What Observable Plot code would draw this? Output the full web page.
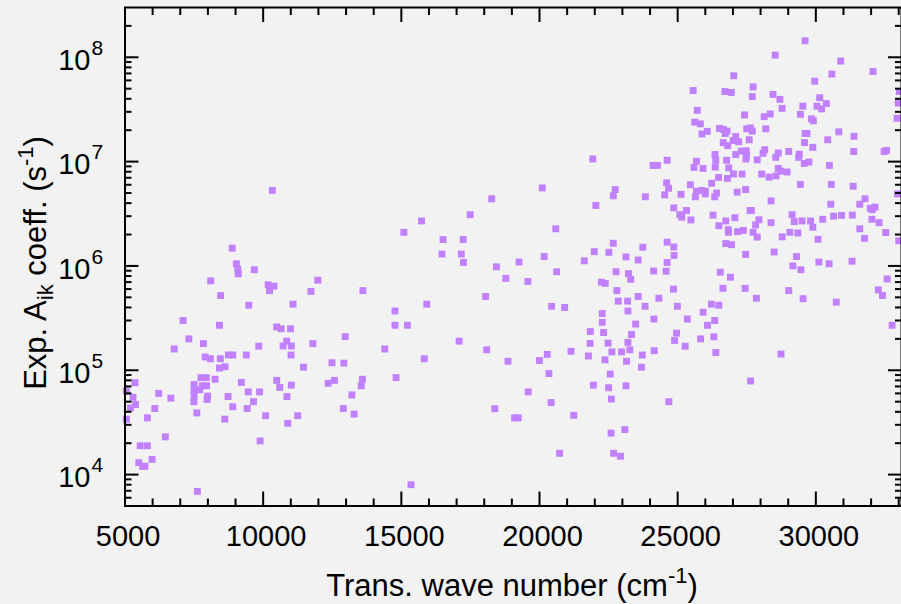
<!DOCTYPE html>
<html><head><meta charset="utf-8">
<style>
html,body{margin:0;padding:0;background:#f2f2f2;}
#chart{width:901px;height:604px;overflow:hidden;}
svg{display:block;}
</style>
<script src="https://cdn.jsdelivr.net/npm/d3@7"></script>
<script src="https://cdn.jsdelivr.net/npm/@observablehq/plot@0.6"></script>
</head><body><div id="chart"></div>
<script>
// [wave number (cm^-1), A_ik (s^-1)]
const lowBand = [[10330,5.3e6],[8880,1.48e6],[9030,1.05e6],[9080,9.3e5],[9100,8.4e5],[9680,9.2e5],[8100,7.2e5],[10180,6.6e5],[10390,6.4e5],[10230,5.8e5],[11980,7.3e5],[11730,5.7e5],[13610,5.8e5],[8460,5.2e5],[9480,4.2e5],[11080,4.3e5],[7100,3.0e5],[8420,2.7e5],[10490,2.6e5],[10650,2.5e5],[10990,2.5e5],[12970,2.1e5],[7310,2.0e5],[7840,1.8e5],[6780,1.6e5],[9840,1.7e5],[10850,1.9e5],[10720,1.71e5],[11020,1.71e5],[11800,1.8e5],[14400,1.6e5],[7900,1.34e5],[8090,1.29e5],[8450,1.29e5],[8740,1.4e5],[8900,1.4e5],[9390,1.4e5],[11010,1.4e5],[8420,1.05e5],[8620,1.08e5],[11460,1.07e5],[12490,1.18e5],[12920,1.17e5],[5360,7.6e4],[7750,8.5e4],[7940,8.5e4],[8260,8.2e4],[7500,7.3e4],[7800,7.1e4],[7950,7.1e4],[7500,6.5e4],[7700,6.5e4],[7500,5.75e4],[7490,5.0e4],[7990,5.65e4],[7970,5.25e4],[9210,7.65e4],[10490,8.0e4],[10600,6.85e4],[11020,7.2e4],[12350,7.5e4],[12580,8.0e4],[13590,8.2e4],[13550,7.1e4],[13210,5.8e4],[9460,6.2e4],[9870,6.2e4],[8730,5.6e4],[9650,5.0e4],[10860,5.6e4],[8900,4.47e4],[9420,4.3e4],[12900,4.3e4],[13290,3.8e4],[6220,6.0e4],[6660,5.4e4],[6080,4.3e4],[7600,3.9e4],[8610,3.4e4],[10090,3.67e4],[11250,3.67e4],[10890,3.1e4],[5810,3.5e4],[6460,2.3e4],[9890,2.1e4],[5550,1.89e4],[5810,1.89e4],[5980,1.4e4],[5500,1.3e4],[5640,1.2e4],[5720,1.2e4],[7620,6.9e3],[5050,6.3e4],[5290,5.5e4],[5380,4.7e4],[5200,4.35e4],[5050,3.4e4]];
const midBand = [[20100,5.6e6],[22740,5.4e6],[22670,4.7e6],[18270,4.4e6],[22040,3.8e6],[17490,3.1e6],[15730,2.7e6],[15090,2.1e6],[20590,2.27e6],[16510,1.79e6],[17240,1.79e6],[16470,1.3e6],[17170,1.3e6],[17250,1.08e6],[19260,1.09e6],[20170,1.23e6],[18440,9.8e5],[18780,7.6e5],[19580,7.1e5],[20620,8.8e5],[21620,1.12e6],[21980,1.37e6],[22510,1.35e6],[22670,1.65e6],[23130,1.22e6],[23570,1.14e6],[23740,1.51e6],[22770,8.8e5],[23220,8.44e5],[23300,7.45e5],[22240,7.0e5],[22380,6.8e5],[22800,5.8e5],[22850,4.6e5],[23190,4.6e5],[23570,5.1e5],[23820,4.1e5],[23200,3.7e5],[18050,5.1e5],[15920,4.3e5],[14770,3.7e5],[14770,2.7e5],[15220,2.7e5],[20440,4.1e5],[20910,4.0e5],[22270,3.5e5],[22270,2.88e5],[22320,2.3e5],[21840,2.35e5],[21830,1.81e5],[22480,1.82e5],[23480,2.77e5],[23330,2.2e5],[23200,1.85e5],[23270,1.57e5],[22970,1.5e5],[22620,1.5e5],[21770,1.37e5],[22370,1.26e5],[23150,1.22e5],[23720,1.4e5],[23690,1.07e5],[22560,9.2e4],[21950,7.2e4],[22500,6.8e4],[23130,7.1e4],[22600,5.3e4],[17090,1.9e5],[18090,1.57e5],[15830,1.29e5],[18860,1.22e5],[20000,1.24e5],[20280,1.42e5],[21140,1.52e5],[14810,8.5e4],[19590,6.2e4],[20340,9.3e4],[20420,4.9e4],[18380,4.28e4],[19100,3.5e4],[19230,3.5e4],[21240,3.7e4],[22590,2.5e4],[23090,2.7e4],[20730,1.6e4],[22680,1.6e4],[22930,1.5e4],[15350,8.0e3],[21930,1.06e7],[24680,5.0e4],[27640,7.9e4]];
const highBand = [[29610,1.44e8],[28530,1.05e8],[30900,9.2e7],[32070,7.3e7],[30580,6.9e7],[27030,6.65e7],[29960,5.9e7],[25560,4.8e7],[26710,4.7e7],[26940,4.6e7],[27730,5.2e7],[27700,4.2e7],[28450,4.4e7],[28700,3.95e7],[30140,4.1e7],[30040,3.4e7],[30380,3.6e7],[30210,3.2e7],[29530,3.4e7],[28780,3.24e7],[25710,3.1e7],[27420,2.8e7],[28130,2.7e7],[28350,2.86e7],[29440,2.84e7],[29840,2.57e7],[29910,2.46e7],[25620,2.39e7],[25820,2.3e7],[26070,1.95e7],[25880,1.84e7],[26510,2.08e7],[26650,2.04e7],[26720,1.86e7],[26790,1.96e7],[27500,2.06e7],[27630,2.1e7],[27700,1.96e7],[28190,2.06e7],[29610,1.86e7],[29680,1.86e7],[30830,1.93e7],[31380,1.75e7],[30430,1.62e7],[32940,2.6e7],[32980,3.64e7],[33020,4.7e7],[27100,1.74e7],[27010,1.59e7],[27210,1.55e7],[27590,1.62e7],[26650,1.52e7],[26810,1.42e7],[29590,1.52e7],[29890,1.37e7],[24110,9.2e6],[24270,9.2e6],[24620,1.03e7],[26350,1.17e7],[26380,1.03e7],[26770,1.03e7],[27100,1.17e7],[27300,1.26e7],[27480,1.27e7],[27490,1.15e7],[27470,1.06e7],[27880,1.04e7],[28090,1.2e7],[28150,1.3e7],[28550,1.1e7],[28640,1.21e7],[29020,1.25e7],[29400,1.18e7],[29380,1.1e7],[29580,9.6e6],[29750,9.9e6],[31370,1.25e7],[32470,1.25e7],[32560,1.28e7],[30490,9.2e6],[25680,1.007e7],[25590,8.8e6],[25920,8.6e6],[26360,8.85e6],[26850,8.7e6],[27020,7.6e6],[27330,7.6e6],[26800,6.9e6],[26480,7.05e6],[26230,6.2e6],[28040,7.6e6],[28310,7.1e6],[28560,7.3e6],[28640,8.6e6],[28740,8.1e6],[28960,7.95e6],[29440,6.05e6],[30560,6.05e6],[31350,5.8e6],[32950,4.9e6],[24600,6.25e6],[24670,5.55e6],[25460,6.0e6],[23830,4.6e6],[24530,4.8e6],[25120,4.85e6],[25680,5.2e6],[25640,4.6e6],[25860,5.3e6],[26000,5.2e6],[26000,4.9e6],[26410,5.0e6],[26340,4.6e6],[27150,5.1e6],[27460,5.4e6],[28380,4.2e6],[30540,3.9e6],[31590,3.9e6],[31780,4.4e6],[31970,3.57e6],[32140,3.67e6],[32040,3.46e6],[24860,3.6e6],[25080,3.1e6],[25150,2.93e6],[25320,3.4e6],[25480,2.76e6],[26280,3.07e6],[26490,2.43e6],[26740,2.7e6],[27070,2.9e6],[26830,2.23e6],[26840,2.1e6],[27160,2.13e6],[27380,2.19e6],[27620,3.4e6],[27670,3.4e6],[27940,2.77e6],[27820,2.47e6],[27730,2.1e6],[27880,1.89e6],[28380,2.6e6],[29140,3.1e6],[29220,2.66e6],[29500,2.7e6],[29810,2.7e6],[29890,2.35e6],[29060,2.1e6],[29350,2.07e6],[28780,1.9e6],[30250,2.8e6],[30640,3.0e6],[30930,3.05e6],[31320,3.07e6],[32030,2.8e6],[32290,2.6e6],[31590,2.27e6],[31760,1.84e6],[32530,2.09e6],[30080,1.8e6],[33000,1.74e6],[26740,1.64e6],[26950,1.6e6],[24620,1.69e6],[24860,1.52e6],[24870,1.26e6],[24620,1.08e6],[27460,1.29e6],[28490,1.36e6],[29300,1.23e6],[29170,1.0e6],[29460,9.2e5],[30110,1.09e6],[30480,1.05e6],[31310,1.11e6],[32580,7.5e5],[32260,5.9e5],[32410,5.2e5],[24130,8.95e5],[24580,8.9e5],[26540,8.7e5],[26910,7.8e5],[24320,4.9e5],[24850,6.0e5],[26640,6.1e5],[27440,6.1e5],[27850,4.9e5],[29020,5.8e5],[29540,4.85e5],[30740,4.5e5],[32760,2.7e5],[24990,4.1e5],[26220,4.3e5],[26490,4.2e5],[25920,3.6e5],[24140,3.1e5],[25350,3.1e5],[26340,3.0e5],[26080,2.7e5],[24960,2.27e5],[24890,1.93e5],[25830,2.0e5],[26310,2.09e5],[25270,1.7e5],[24150,1.54e5],[26380,1.48e5],[28740,1.43e5]];

const xMajorTicks = [5000, 10000, 15000, 20000, 25000, 30000];
const yMajorTicks = [1e4, 1e5, 1e6, 1e7, 1e8];
const yExponents = ["4", "5", "6", "7", "8"];
const xDomain = [5000, 33100];
const yDomain = [5000, 3e8];

const points = [...lowBand, ...midBand, ...highBand].map(([x, y]) => ({x, y}));
const xMinor = d3.range(6000, 34000, 1000).filter(v => v % 5000 !== 0 && v < xDomain[1]);
const yMinor = [];
for (let e = 3; e <= 8; e++) for (let m = 2; m <= 9; m++) {
  const v = m * Math.pow(10, e);
  if (v > yDomain[0] && v < yDomain[1]) yMinor.push(v);
}

const FONT = "'Liberation Sans', Arial, Helvetica, sans-serif";
const tk = {fill: "none", stroke: "black", strokeWidth: 2, label: null};

const plot = Plot.plot({
  width: 901, height: 604,
  marginLeft: 124.5, marginRight: 0, marginTop: 7, marginBottom: 98.5,
  style: {background: "#f2f2f2", fontFamily: FONT, fontSize: "29px", color: "black"},
  x: {type: "linear", domain: xDomain},
  y: {type: "log", domain: yDomain},
  marks: [
    Plot.dot(points, {x: "x", y: "y", symbol: "square", r: 3.9, fill: "#c080ff", stroke: "none"}),
    // inward ticks on all four sides
    Plot.axisX(xMajorTicks, {anchor: "bottom", tickSize: 14, dy: -14, ...tk}),
    Plot.axisX(xMinor, {anchor: "bottom", tickSize: 7, dy: -7, ...tk}),
    Plot.axisX(xMajorTicks, {anchor: "top", tickSize: 14, dy: 14, ...tk}),
    Plot.axisX(xMinor, {anchor: "top", tickSize: 7, dy: 7, ...tk}),
    Plot.axisY(yMajorTicks, {anchor: "left", tickSize: 14, dx: 14, ...tk}),
    Plot.axisY(yMinor, {anchor: "left", tickSize: 7, dx: 7, ...tk}),
    Plot.axisY(yMajorTicks, {anchor: "right", tickSize: 14, dx: -14, ...tk}),
    Plot.axisY(yMinor, {anchor: "right", tickSize: 7, dx: -7, ...tk}),
    // tick labels
    Plot.axisX(xMajorTicks, {anchor: "bottom", tickSize: 0, tickPadding: 19, dx: 3, stroke: "none", fill: "black", label: null, tickFormat: d => `${d}`, fontSize: 29}),
    Plot.text(yMajorTicks, {y: d => d, frameAnchor: "left", text: () => "10", textAnchor: "end", lineAnchor: "bottom", dx: -34.5, dy: 12.7, fontSize: 29, fill: "black"}),
    Plot.text(yMajorTicks, {y: d => d, frameAnchor: "left", text: (d, i) => yExponents[i], textAnchor: "start", lineAnchor: "bottom", dx: -33.5, dy: -2.3, fontSize: 21, fill: "black"}),
    Plot.frame({stroke: "black", strokeWidth: 2})
  ]
});

const svg = d3.select(plot);
const yl = svg.append("text")
  .attr("transform", "translate(46,263) rotate(-90)")
  .attr("text-anchor", "middle").attr("font-size", 31)
  .attr("font-family", FONT).attr("fill", "black");
yl.append("tspan").text("Exp. A");
yl.append("tspan").attr("font-size", 22).attr("dy", 7).text("ik");
yl.append("tspan").attr("dy", -7).text(" coeff. (s");
yl.append("tspan").attr("font-size", 22).attr("dy", -13).text("-1");
yl.append("tspan").attr("dy", 13).text(")");

const xl = svg.append("text")
  .attr("x", 512).attr("y", 596)
  .attr("text-anchor", "middle").attr("font-size", 31)
  .attr("font-family", FONT).attr("fill", "black");
xl.append("tspan").text("Trans. wave number (cm");
xl.append("tspan").attr("font-size", 22).attr("dy", -13).text("-1");
xl.append("tspan").attr("dy", 13).text(")");

document.getElementById("chart").appendChild(plot);
</script>
</body></html>
